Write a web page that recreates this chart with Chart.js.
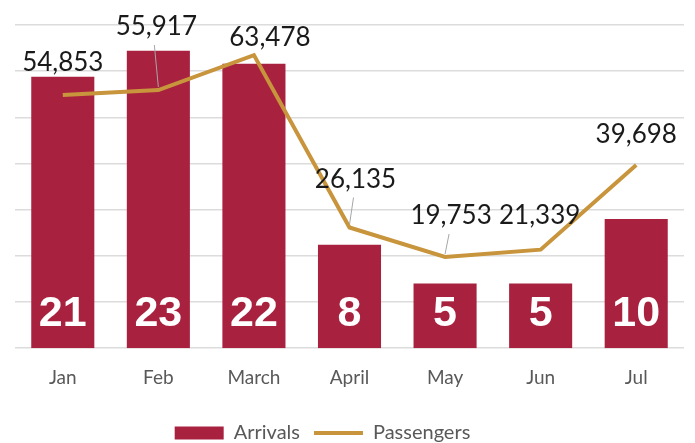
<!DOCTYPE html>
<html lang="en">
<head>
  <meta charset="UTF-8">
  <title>Arrivals and Passengers</title>
  <script src="https://cdn.jsdelivr.net/npm/chart.js"></script>
  <style>
    html, body { margin: 0; padding: 0; background: #fff; }
    #wrap { width: 695px; height: 443px; }
  </style>
</head>
<body>
<div id="wrap"><canvas id="chart"></canvas></div>

<script>
// Chart data
const months = ['Jan', 'Feb', 'March', 'April', 'May', 'Jun', 'Jul'];
const arrivals = [21, 23, 22, 8, 5, 5, 10];
const passengers = [54853, 55917, 63478, 26135, 19753, 21339, 39698];

// label offsets for the passenger values (px, relative to the point)
const labelDx = [0, -2, 16, 6, 6, -1, 0];
const labelDy = [-32, -63, -18, -48, -41, -34, -30];

const barColor = '#a8223f';
const lineColor = '#c8943c';

// Draws the value labels on top of bars and line
const valueLabels = {
  id: 'valueLabels',
  afterDatasetsDraw(chart) {
    const ctx = chart.ctx;
    const barMeta = chart.getDatasetMeta(0);
    const lineMeta = chart.getDatasetMeta(1);
    const base = chart.scales.y.getPixelForValue(0);

    ctx.save();
    ctx.textAlign = 'center';
    ctx.textBaseline = 'middle';

    ctx.fillStyle = '#ffffff';
    ctx.font = 'bold 43px "Liberation Sans", Arial, sans-serif';
    barMeta.data.forEach((bar, i) => {
      ctx.fillText(String(arrivals[i]), bar.x, base - 34);
    });

    ctx.font = '26px Lato, sans-serif';
    lineMeta.data.forEach((pt, i) => {
      const lx = pt.x + labelDx[i];
      const ly = pt.y + labelDy[i];
      if (labelDy[i] < -36) {
        ctx.strokeStyle = '#a6a6a6';
        ctx.lineWidth = 1;
        ctx.beginPath();
        ctx.moveTo(lx - 2, ly + 18);
        ctx.lineTo(pt.x, pt.y - 3);
        ctx.stroke();
      }
      ctx.fillStyle = '#1a1a1a';
      ctx.fillText(passengers[i].toLocaleString('en-US'), lx, ly);
    });
    ctx.restore();
  }
};

// the legend sits a bit left of centre and lower in the original
const legendShift = {
  id: 'legendShift',
  afterLayout(chart) {
    const lg = chart.legend;
    lg.left -= 27;
    lg.right -= 27;
    lg.top += 10;
    lg.bottom += 10;
  }
};

new Chart(document.getElementById('chart'), {
  data: {
    labels: months,
    datasets: [
      {
        type: 'bar',
        label: 'Arrivals',
        data: arrivals,
        backgroundColor: barColor,
        yAxisID: 'y',
        barPercentage: 0.66,
        categoryPercentage: 1,
        order: 2,
        pointStyle: 'rect'
      },
      {
        type: 'line',
        label: 'Passengers',
        data: passengers,
        borderColor: lineColor,
        backgroundColor: lineColor,
        borderWidth: 4,
        pointRadius: 0,
        tension: 0,
        yAxisID: 'y1',
        order: 1,
        pointStyle: 'line'
      }
    ]
  },
  options: {
    responsive: true,
    maintainAspectRatio: false,
    animation: false,
    layout: { padding: { left: 15, right: 11, top: 25, bottom: 0 } },
    plugins: {
      tooltip: { enabled: false },
      legend: {
        position: 'bottom',
        labels: {
          usePointStyle: true,
          pointStyleWidth: 49,
          boxHeight: 13,
          padding: 14,
          color: '#595959',
          font: { family: 'Lato', size: 20 },
          sort: (a, b) => a.datasetIndex - b.datasetIndex
        }
      }
    },
    scales: {
      x: {
        grid: { display: false },
        border: { display: false },
        ticks: { color: '#595959', font: { family: 'Lato', size: 19 }, padding: 10 }
      },
      y: {
        display: false,
        min: 0,
        max: 25
      },
      y1: {
        position: 'left',
        min: 0,
        max: 70000,
        ticks: { display: false, stepSize: 10000 },
        grid: { color: '#dcdcdc', lineWidth: 1.5, drawTicks: false },
        border: { display: false }
      }
    }
  },
  plugins: [valueLabels, legendShift]
});
</script>
</body>
</html>
